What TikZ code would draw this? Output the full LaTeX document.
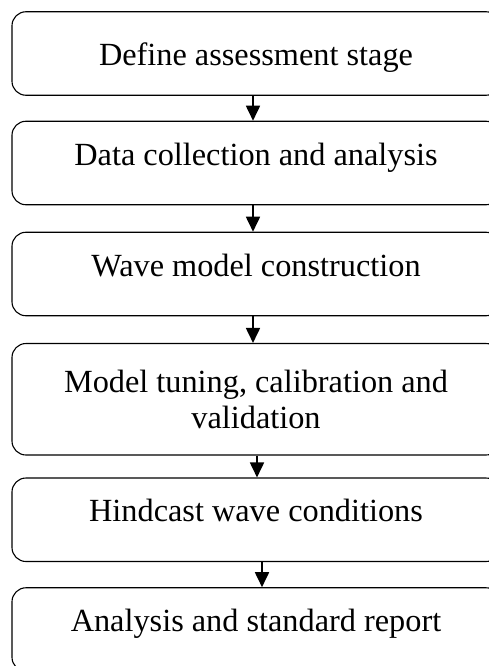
\documentclass[tikz,border=0pt]{standalone}
\usepackage{fontspec}
\setmainfont{Liberation Serif}
\usetikzlibrary{arrows.meta}

\begin{document}
\begin{tikzpicture}[x=1pt, y=-1pt,
  stage/.style={draw, line width=1.1pt, rounded corners=14pt, minimum width=488pt, minimum height=83.5pt, align=center, inner sep=0pt, font=\fontsize{32.3}{36}\selectfont},
  oneline/.style={stage, text height=15pt, text depth=11pt},
  flow/.style={line width=1.8pt, -{Triangle[length=15pt, width=14pt]}}]
% Page frame, boxes run off the right and bottom edge
\useasboundingbox (0,0) rectangle (489,666);
\clip (0,0) rectangle (489,666);

% Draw stages
\node[oneline, text height=24pt, text depth=0pt] (define) at (256,53.5) {Define assessment stage};
\node[oneline] (data) at (256,163) {Data collection and analysis};
\node[oneline] (wave) at (256,274) {Wave model construction};
\node[stage, minimum height=111.5pt] (tune) at (256,399.25) {Model tuning, calibration and\\validation};
\node[oneline] (hind) at (256,519.75) {Hindcast wave conditions};
\node[oneline] (report) at (256,629.5) {Analysis and standard report};

% Draw arrows
\draw[flow] ([xshift=-3pt]define.south) -- ([xshift=-3pt]data.north);
\draw[flow] ([xshift=-3pt]data.south) -- ([xshift=-3pt]wave.north);
\draw[flow] ([xshift=-3pt]wave.south) -- ([xshift=-3pt]tune.north);
\draw[flow] ([xshift=1pt]tune.south) -- ([xshift=1pt]hind.north);
\draw[flow] ([xshift=6pt]hind.south) -- ([xshift=6pt]report.north);
\end{tikzpicture}
\end{document}
